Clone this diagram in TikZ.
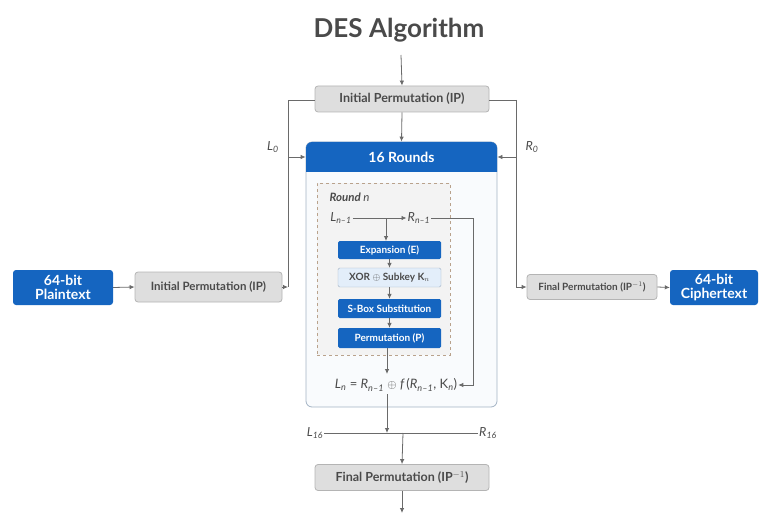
\documentclass[tikz,border=0pt]{standalone}
\usepackage{fontspec}
\setmainfont{Lato}
\usetikzlibrary{arrows.meta,positioning}
\definecolor{desblue}{HTML}{1565C0}
\definecolor{boxgray}{HTML}{DEDEDE}
\definecolor{edgegray}{HTML}{B4B4B4}
\definecolor{txtgray}{HTML}{4A4A4A}
\definecolor{linegray}{HTML}{6A6A6A}
\definecolor{panelline}{HTML}{A3B3C4}
\definecolor{panelfill}{HTML}{F9FBFD}
\definecolor{roundfill}{HTML}{F3F3F3}
\definecolor{rounddash}{HTML}{B9A28C}
\definecolor{xorfill}{HTML}{E3EEFA}
% italic variable with a subscript, set in the text face
\newcommand{\desvar}[2]{{\itshape #1}\textsubscript{\itshape #2}}
\tikzset{
  graybox/.style={draw=edgegray, fill=boxgray, rounded corners=3pt, text=txtgray,
    font=\bfseries\fontsize{12.5}{14}\selectfont, inner sep=1pt, line width=0.8pt},
  bluebox/.style={fill=desblue, rounded corners=3pt, text=white,
    font=\bfseries\fontsize{14}{14}\selectfont, align=center, inner sep=1pt},
  stagebox/.style={fill=desblue, text=white, minimum width=103pt, rounded corners=1.5pt,
    font=\bfseries\fontsize{10}{11}\selectfont, inner sep=1pt},
  xorbox/.style={fill=xorfill, draw=panelline, text=txtgray, minimum width=103pt,
    rounded corners=1.5pt, font=\bfseries\fontsize{10}{11}\selectfont, inner sep=1pt},
  conn/.style={draw=linegray, line width=0.8pt},
  arr/.style={conn, -{Latex[length=5pt,width=4.5pt]}},
  lbl/.style={text=txtgray, font=\fontsize{12.5}{13}\selectfont, inner sep=1pt},
}
\begin{document}
\begin{tikzpicture}[x=1pt,y=1pt]
\useasboundingbox (0,0) rectangle (762,-513);

% title
\node[text=txtgray, font=\bfseries\fontsize{26}{30}\selectfont] (title) at (399,-30) {DES Algorithm};

% top initial permutation
\node[graybox, minimum width=174pt, minimum height=26pt] (ipTop) at (402,-99) {Initial Permutation (IP)};
\coordinate (inTop) at (401,-55);

% the 16-round panel
\node[draw=panelline, fill=panelfill, rounded corners=6pt, minimum width=191pt,
      minimum height=265pt, line width=0.8pt] (rounds) at (401.5,-274.5) {};
\fill[desblue] (306,-172) {[rounded corners=6pt] -- (306,-142) -- (497,-142)} -- (497,-172) -- cycle;
\node[text=white, font=\bfseries\fontsize{14}{16}\selectfont] (hdr) at (401.5,-157) {16 Rounds};

% one round, dashed
\node[draw=rounddash, fill=roundfill, dashed, minimum width=133pt, minimum height=172pt,
      line width=0.7pt] (roundn) at (383.5,-269) {};
\node[anchor=west, text=txtgray, font=\bfseries\itshape\fontsize{11.5}{13}\selectfont] (rlbl) at (326,-197) {Round \textmd{n}};
\node[lbl] (lprev) at (341,-218) {\desvar{L}{n–1}};
\node[lbl] (rprev) at (419,-218) {\desvar{R}{n–1}};

\node[stagebox, minimum height=18pt] (expn) at (389.5,-250) {Expansion (E)};
\node[xorbox, minimum height=19pt] (xor) at (389.5,-277.5) {XOR $\oplus$ Subkey K$_n$};
\node[stagebox, minimum height=19pt] (sbox) at (389.5,-308.5) {S-Box Substitution};
\node[stagebox, minimum height=20pt] (perm) at (389.5,-338) {Permutation (P)};

\node[lbl, font=\fontsize{13}{14}\selectfont] (fml) at (396,-385)
  {\desvar{L}{n} = \desvar{R}{n–1} $\oplus$ {\itshape f}\,(\desvar{R}{n–1}, K\textsubscript{\itshape n})};

% round wiring
\draw[arr] (lprev.east) -- (rprev.west);
\draw[arr] (386,-218) -- (386,-241);
\draw[arr] (expn.south) -- (xor.north);
\draw[arr] (xor.south) -- (sbox.north);
\draw[arr] (sbox.south) -- (perm.north);
\draw[arr] (387,-348) -- (387,-374);
\coordinate (rturn) at (473,-218);
\draw[arr] (rprev.east) -- (rturn) |- (fml.east);

% split after the rounds
\node[lbl] (l16) at (315,-433) {\desvar{L}{16}};
\node[lbl] (r16) at (488,-433) {\desvar{R}{16}};
\draw[conn] (l16.east) -- (r16.west);
\coordinate (joinL) at (387,-433);
\coordinate (joinR) at (403,-433);
\draw[arr] (387,-394) -- (joinL);

% final permutation
\node[graybox, minimum width=174pt, minimum height=26pt] (fpBot) at (402,-477.5) {Final Permutation (IP$^{-1}$)};
\coordinate (outBot) at (402,-513);
\draw[arr] (joinR) -- (fpBot.north);
\draw[arr] (inTop) -- (ipTop.north);
\draw[arr] (ipTop.south) -- (rounds.north);
\draw[arr] (fpBot.south) -- (outBot);

% left side: plaintext in
\node[bluebox, minimum width=100pt, minimum height=35pt] (plain) at (63,-287.5) {64-bit\\Plaintext};
\node[graybox, minimum width=147pt, minimum height=30pt, font=\bfseries\fontsize{11.5}{13}\selectfont] (ipLeft) at (208.5,-287) {Initial Permutation (IP)};
\coordinate (lbus) at (288,-287);
\coordinate (lbusTop) at (288,-100);
\draw[arr] (plain.east) -- (ipLeft.west);
\draw[arr] (ipLeft.east) -- (lbus);
\draw[conn] (ipTop.west |- lbusTop) -- (lbusTop) -- (lbus);
\draw[arr] (288,-157) -- (rounds.west |- hdr);
\node[lbl] (l0) at (273,-147) {\desvar{L}{0}};

% right side: ciphertext out
\node[graybox, minimum width=130pt, minimum height=25pt, font=\bfseries\fontsize{10}{11}\selectfont] (fpRight) at (592,-287) {Final Permutation (IP$^{-1}$)};
\node[bluebox, minimum width=88pt, minimum height=35pt] (cipher) at (714,-287.5) {64-bit\\Ciphertext};
\coordinate (rbusTop) at (516,-100);
\draw[conn] (ipTop.east |- rbusTop) -- (rbusTop);
\draw[arr] (rbusTop) |- (fpRight.west);
\draw[arr] (fpRight.east) -- (cipher.west);
\draw[arr] (516,-157) -- (rounds.east |- hdr);
\node[lbl] (r0) at (532,-147) {\desvar{R}{0}};
\end{tikzpicture}
\end{document}
